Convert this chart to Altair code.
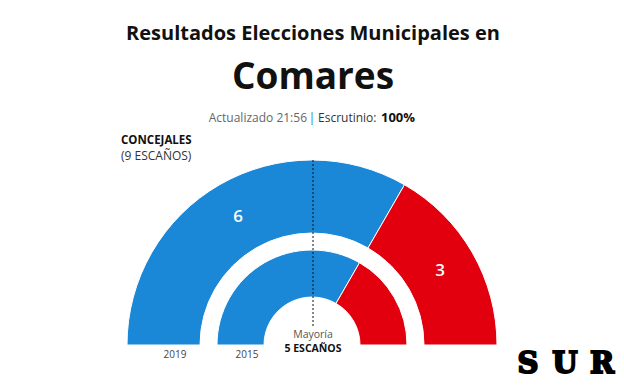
import math
import altair as alt
import pandas as pd

# ---- data ----
years = ["2019", "2019", "2015", "2015"]
parties = ["PP", "PSOE", "PP", "PSOE"]
seats = [6, 3, 6, 3]
order = [0, 1, 0, 1]
party_domain = ["PP", "PSOE"]
party_colors = ["#1B87D7", "#E2000F"]

df = pd.DataFrame({"year": years, "party": parties, "seats": seats, "ord": order})

CX, CY = 304, 337
theta_scale = alt.Scale(range=[-math.pi / 2, math.pi / 2])
color_scale = alt.Scale(domain=party_domain, range=party_colors)


def ring(year, outer, inner):
    return (
        alt.Chart(df)
        .transform_filter(alt.datum.year == year)
        .mark_arc(outerRadius=outer, innerRadius=inner, stroke="white", strokeWidth=1)
        .encode(
            theta=alt.Theta("seats:Q", stack=True, scale=theta_scale),
            color=alt.Color("party:N", scale=color_scale, legend=None),
            order=alt.Order("ord:Q"),
            x=alt.value(CX),
            y=alt.value(CY),
        )
    )


outer_ring = ring("2019", 185, 112)
inner_ring = ring("2015", 95, 48)

seat_labels = (
    alt.Chart(df)
    .transform_filter(alt.datum.year == "2019")
    .mark_text(radius=148, fontSize=17, fontWeight=600, color="white", font="Open Sans")
    .encode(
        theta=alt.Theta("seats:Q", stack=True, scale=theta_scale),
        order=alt.Order("ord:Q"),
        text=alt.Text("seats:Q"),
        x=alt.value(CX),
        y=alt.value(CY),
    )
)

one = alt.Data(values=[{"a": 1}])


def label(txt, x, y, size, weight="normal", color="#222", align="center",
          font="Open Sans", stroke=None):
    kw = dict(fontSize=size, fontWeight=weight, color=color, align=align,
              font=font, baseline="alphabetic")
    if stroke:
        kw.update(stroke=color, strokeWidth=stroke)
    return (
        alt.Chart(one)
        .mark_text(**kw)
        .encode(text=alt.value(txt), x=alt.value(x), y=alt.value(y))
    )


majority_line = (
    alt.Chart(one)
    .mark_rule(color="#111", strokeDash=[2, 2], strokeWidth=1)
    .encode(x=alt.value(CX + 1), y=alt.value(152), y2=alt.value(320))
)

layers = [
    outer_ring,
    inner_ring,
    seat_labels,
    majority_line,
    label("Resultados Elecciones Municipales en", 305, 32, 20, "bold", "#111"),
    label("Comares", 305, 81, 37, "bold", "#111"),
    label("Actualizado 21:56", 299, 114, 12, "normal", "#666", "right"),
    label("|", 304, 114, 12.5, "normal", "#1B87D7"),
    label("Escrutinio:", 310, 114, 12, "normal", "#333", "left"),
    label("100%", 373, 114, 13, "bold", "#111", "left"),
    label("CONCEJALES", 113, 136, 11.5, "bold", "#111", "left"),
    label("(9 ESCAÑOS)", 113, 152, 12, "normal", "#333", "left"),
    label("2019", 167, 350, 10, "normal", "#444"),
    label("2015", 239, 350, 10, "normal", "#444"),
    label("Mayoría", 305, 330, 10.5, "normal", "#555"),
    label("5 ESCAÑOS", 305, 344, 10.5, "bold", "#111"),
    label("S", 520, 365, 29, "bold", "#000", "center", "DejaVu Serif", 2),
    label("U", 557, 365, 29, "bold", "#000", "center", "DejaVu Serif", 2),
    label("R", 594, 365, 29, "bold", "#000", "center", "DejaVu Serif", 2),
]

chart = (
    alt.layer(*layers)
    .properties(width=608, height=377, padding=0, autosize="none")
    .configure_view(stroke=None)
)

chart.save("out.html", embed_options={"renderer": "svg", "actions": False})
